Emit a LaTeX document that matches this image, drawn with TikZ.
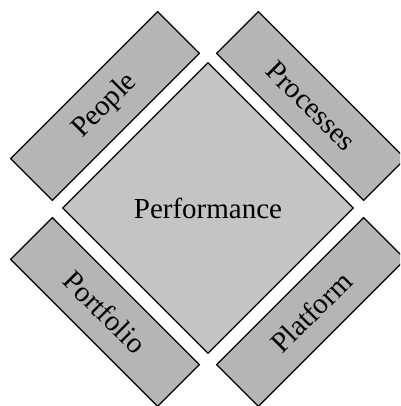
\documentclass[tikz,border=0pt]{standalone}
\usepackage{fontspec}
\setmainfont{Liberation Serif}
\usetikzlibrary{shapes.geometric}
\begin{document}
\begin{tikzpicture}[x=1pt,y=1pt,
  shapeline/.style={draw=black, line width=1.2pt, line join=miter},
  band/.style={shapeline, fill=black!29, minimum width=208pt, minimum height=59pt, inner sep=0pt, font=\fontsize{29}{32}\selectfont},
  centre/.style={shapeline, fill=black!23, diamond, aspect=1, minimum width=291pt, minimum height=291pt, inner sep=0pt, font=\fontsize{29}{32}\selectfont}]
\useasboundingbox (0,0) rectangle (400,406);
\clip (0,0) rectangle (400,406);
\node[centre] (perf) at (208,198) {Performance};
\node[band, rotate=45] (people) at (105,300) {People};
\node[band, rotate=-45] (processes) at (311,300) {Processes};
\node[band, rotate=-45] (portfolio) at (105,94) {Portfolio};
\node[band, rotate=45] (platform) at (311,94) {Platform};
\end{tikzpicture}
\end{document}
